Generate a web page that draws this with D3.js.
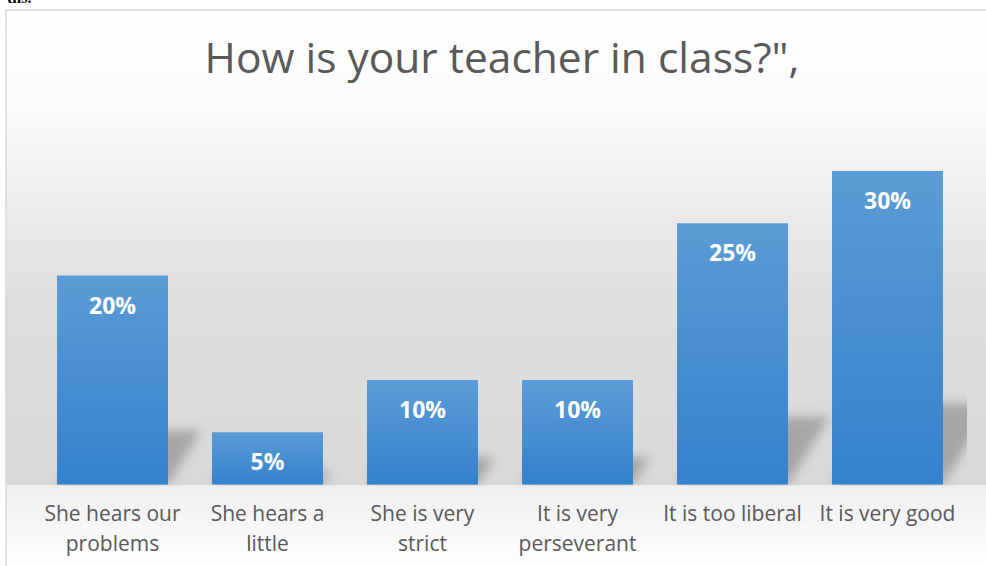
<!DOCTYPE html>
<html>

<head>
    <meta charset="utf-8">
    <style>
        body { margin: 0; background: #fff; }
        svg { display: block; }
    </style>
</head>

<body>
    <script src="https://d3js.org/d3.v7.min.js"></script>
    <script>
        // chart data
        var categories = [
            ["She hears our", "problems"],
            ["She hears a", "little"],
            ["She is very", "strict"],
            ["It is very", "perseverant"],
            ["It is too liberal"],
            ["It is very good"]
        ];
        var values = [20, 5, 10, 10, 25, 30];
        var title = 'How is your teacher in class?",';

        var width = 986, height = 566;
        var plot = { left: 35, right: 965, top: 118.75, bottom: 484.5 };

        var svg = d3.select('body').append('svg')
            .attr('width', width)
            .attr('height', height);

        var defs = svg.append('defs');

        var bg = defs.append('linearGradient')
            .attr('id', 'bg-grad')
            .attr('x1', 0).attr('y1', 0).attr('x2', 0).attr('y2', 1);
        bg.append('stop').attr('offset', 0).attr('stop-color', '#ffffff');
        bg.append('stop').attr('offset', 0.2).attr('stop-color', '#fbfbfb');
        bg.append('stop').attr('offset', 0.4).attr('stop-color', '#ededed');
        bg.append('stop').attr('offset', 0.6).attr('stop-color', '#dfdfdf');
        bg.append('stop').attr('offset', 1).attr('stop-color', '#d9d9d9');

        var floor = defs.append('linearGradient')
            .attr('id', 'floor-grad')
            .attr('x1', 0).attr('y1', 0).attr('x2', 0).attr('y2', 1);
        floor.append('stop').attr('offset', 0).attr('stop-color', '#eeeeee');
        floor.append('stop').attr('offset', 1).attr('stop-color', '#ffffff');

        var barGrad = defs.append('linearGradient')
            .attr('id', 'bar-grad')
            .attr('x1', 0).attr('y1', 0).attr('x2', 0).attr('y2', 1);
        barGrad.append('stop').attr('offset', 0).attr('stop-color', '#5c9cd6');
        barGrad.append('stop').attr('offset', 1).attr('stop-color', '#3481cc');

        defs.append('filter')
            .attr('id', 'blur')
            .attr('x', -0.5).attr('y', -0.5).attr('width', 2).attr('height', 2)
            .append('feGaussianBlur')
            .attr('stdDeviation', 5.5);

        defs.append('clipPath')
            .attr('id', 'plot-clip')
            .append('rect')
            .attr('x', 0).attr('y', 0)
            .attr('width', 967).attr('height', plot.bottom + 1);

        // background + frame
        svg.append('rect')
            .attr('x', 6).attr('y', 10)
            .attr('width', 1000).attr('height', plot.bottom + 1 - 10)
            .attr('fill', 'url(#bg-grad)');
        svg.append('rect')
            .attr('x', 6).attr('y', plot.bottom + 1)
            .attr('width', 1000).attr('height', height - plot.bottom)
            .attr('fill', 'url(#floor-grad)');
        svg.append('rect')
            .attr('x', 6).attr('y', 10)
            .attr('width', 1000).attr('height', 600)
            .attr('fill', 'none')
            .attr('stroke', '#d9d9d9')
            .attr('stroke-width', 1.5);

        // cut off text from the page above
        svg.append('text')
            .text('ths.')
            .attr('x', 7)
            .attr('y', 3)
            .attr('font-family', 'Liberation Serif')
            .attr('font-weight', 'bold')
            .attr('font-size', 16)
            .attr('fill', '#000');

        var x = d3.scaleBand()
            .domain(d3.range(categories.length))
            .range([plot.left, plot.right])
            .paddingInner(0.284)
            .paddingOuter(0.142);

        var y = d3.scaleLinear()
            .domain([0, 35])
            .range([plot.bottom, plot.top]);

        // perspective shadows
        var shadows = svg.append('g')
            .attr('clip-path', 'url(#plot-clip)')
            .append('g')
            .attr('filter', 'url(#blur)');

        shadows.selectAll('path')
            .data(values)
            .enter().append('path')
            .attr('d', function (d, i) {
                var x0 = x(i), x1 = x(i) + x.bandwidth();
                var h = y(0) - y(d);
                var dy = h * 0.26, dx = h * 0.16;
                return 'M' + x0 + ',' + y(0) +
                    'L' + x1 + ',' + y(0) +
                    'L' + (x1 + dx) + ',' + (y(0) - dy) +
                    'L' + (x0 + dx) + ',' + (y(0) - dy) + 'Z';
            })
            .attr('fill', '#000')
            .attr('fill-opacity', 0.24);

        // bars
        svg.append('g').selectAll('rect')
            .data(values)
            .enter().append('rect')
            .attr('x', function (d, i) { return x(i) })
            .attr('y', function (d) { return y(d) })
            .attr('width', x.bandwidth())
            .attr('height', function (d) { return y(0) - y(d) })
            .attr('fill', 'url(#bar-grad)');

        // value labels
        svg.append('g').selectAll('text')
            .data(values)
            .enter().append('text')
            .text(function (d) { return d + '%' })
            .attr('x', function (d, i) { return x(i) + x.bandwidth() / 2 })
            .attr('y', function (d) { return y(d) + 38 })
            .attr('text-anchor', 'middle')
            .attr('font-family', 'Open Sans')
            .attr('font-weight', 'bold')
            .attr('font-size', 23)
            .attr('fill', '#fff');

        // category labels
        var cats = svg.append('g').selectAll('text')
            .data(categories)
            .enter().append('text')
            .attr('text-anchor', 'middle')
            .attr('font-family', 'Open Sans')
            .attr('font-size', 21)
            .attr('fill', '#595959');

        cats.selectAll('tspan')
            .data(function (d, i) { return d.map(function (t) { return { t: t, i: i } }) })
            .enter().append('tspan')
            .text(function (d) { return d.t })
            .attr('x', function (d) { return x(d.i) + x.bandwidth() / 2 })
            .attr('y', function (d, j) { return 521 + j * 30 });

        // title
        svg.append('text')
            .text(title)
            .attr('x', 502)
            .attr('y', 73)
            .attr('text-anchor', 'middle')
            .attr('font-family', 'Open Sans')
            .attr('font-size', 42.5)
            .attr('fill', '#595959');
    </script>
</body>

</html>
